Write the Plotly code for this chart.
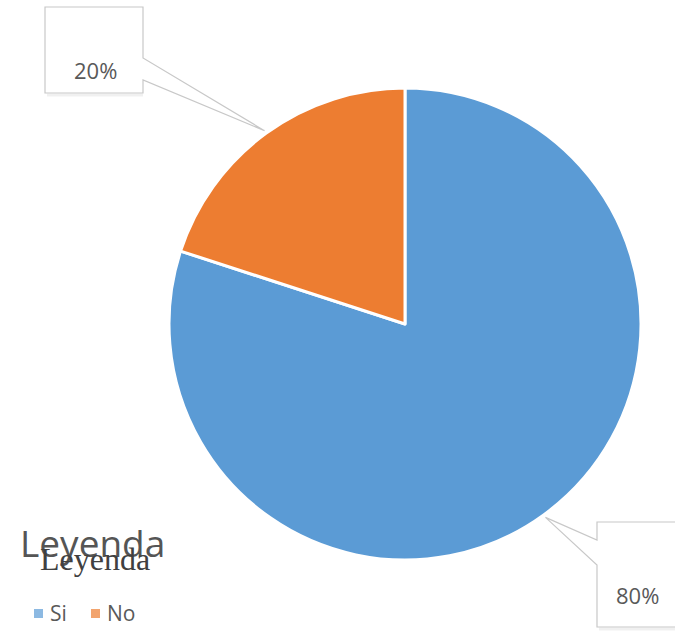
import math
import plotly.graph_objects as go

# Survey answers
labels = ["Si", "No"]
values = [80, 20]
colors = ["#5B9BD5", "#ED7D31"]
legend_title = "Leyenda"

W, H = 675, 632
cx, cy, R = 405, 324, 236  # pie centre and radius in pixels


def px(x):
    return x / W


def py(y):
    return 1 - y / H


fig = go.Figure(
    go.Pie(
        labels=labels,
        values=values,
        sort=False,
        direction="clockwise",
        rotation=0,
        marker=dict(colors=colors, line=dict(color="white", width=3)),
        textinfo="none",
        hoverinfo="label+percent",
        domain=dict(x=[px(cx - R), px(cx + R)], y=[py(cy + R), py(cy - R)]),
        showlegend=False,
    )
)

total = sum(values)
pct = [f"{round(100 * v / total)}%" for v in values]

# callout boxes: (left, top, right, bottom), pointer side, pointer span, text centre
callouts = {
    "Si": dict(box=(597, 522, 677, 627), side="left", span=(540, 565), text=(637, 595)),
    "No": dict(box=(45, 7, 143, 93), side="right", span=(58, 80), text=(95, 70)),
}

shapes = []
annotations = []
cum = 0
for lab, v, p in zip(labels, values, pct):
    theta = math.radians(360 * (cum + v / 2) / total)
    cum += v
    tx = cx + (R + 3) * math.sin(theta)
    ty = cy - (R + 3) * math.cos(theta)
    c = callouts[lab]
    l, t, r, b = c["box"]
    s0, s1 = c["span"]
    if c["side"] == "right":
        pts = [(l, t), (r, t), (r, s0), (tx, ty), (r, s1), (r, b), (l, b)]
    else:
        pts = [(l, t), (r, t), (r, b), (l, b), (l, s1), (tx, ty), (l, s0)]
    path = "M " + " L ".join(f"{px(x):.5f},{py(y):.5f}" for x, y in pts) + " Z"
    # faint drop shadow
    shapes.append(dict(type="line", xref="paper", yref="paper",
                       x0=px(l + 2), x1=px(r), y0=py(b + 2), y1=py(b + 2),
                       line=dict(color="rgba(0,0,0,0.06)", width=3), layer="below"))
    shapes.append(dict(type="path", xref="paper", yref="paper", path=path,
                       fillcolor="white", line=dict(color="#C8C8C8", width=1.2)))
    annotations.append(dict(x=px(c["text"][0]), y=py(c["text"][1]), xref="paper", yref="paper",
                            text=p, showarrow=False, xanchor="center", yanchor="middle",
                            font=dict(family="Open Sans", size=22, color="#595959")))

# legend title (sans) with overlapping serif duplicate
annotations.append(dict(x=px(18), y=py(542), xref="paper", yref="paper", text=legend_title,
                        showarrow=False, xanchor="left", yanchor="middle",
                        font=dict(family="Open Sans", size=37, color="#555555")))
annotations.append(dict(x=px(38), y=py(559), xref="paper", yref="paper", text=legend_title,
                        showarrow=False, xanchor="left", yanchor="middle",
                        font=dict(family="Liberation Serif", size=32, color="#404040")))

# legend entries
legend_x = [34, 91]
for lab, col, lx in zip(labels, colors, legend_x):
    shapes.append(dict(type="rect", xref="paper", yref="paper",
                       x0=px(lx), x1=px(lx + 9), y0=py(618), y1=py(609),
                       fillcolor=col, line=dict(width=0), opacity=0.7))
    annotations.append(dict(x=px(lx + 14), y=py(613), xref="paper", yref="paper", text=lab,
                            showarrow=False, xanchor="left", yanchor="middle",
                            font=dict(family="Open Sans", size=21, color="#595959")))

fig.update_layout(
    width=W,
    height=H,
    margin=dict(l=0, r=0, t=0, b=0),
    paper_bgcolor="white",
    plot_bgcolor="white",
    shapes=shapes,
    annotations=annotations,
)

fig.write_html("out.html")
